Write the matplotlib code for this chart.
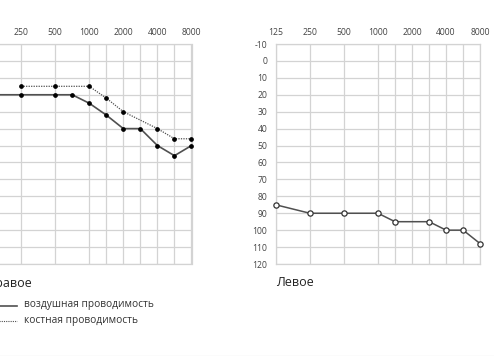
import matplotlib
matplotlib.use("Agg")
import matplotlib.pyplot as plt
import numpy as np
from matplotlib.lines import Line2D

plt.rcParams['font.family'] = ['Open Sans', 'DejaVu Sans']

# ---- data ----
tick_freqs = [125, 250, 500, 1000, 2000, 4000, 8000]
half_freqs = [1500, 3000, 6000]
db_ticks = [-10, 0, 10, 20, 30, 40, 50, 60, 70, 80, 90, 100, 110, 120]

right_air_freqs = [125, 250, 500, 750, 1000, 1500, 2000, 3000, 4000, 6000, 8000]
right_air_db = [20, 20, 20, 20, 25, 32, 40, 40, 50, 56, 50]
right_bone_freqs = [250, 500, 1000, 1500, 2000, 4000, 6000, 8000]
right_bone_db = [15, 15, 15, 22, 30, 40, 46, 46]

left_air_freqs = [125, 250, 500, 1000, 1500, 3000, 4000, 6000, 8000]
left_air_db = [85, 90, 90, 90, 95, 95, 100, 100, 108]

titles = ["Правое", "Левое"]
legend_labels = ["воздушная проводимость", "костная проводимость"]


def fpos(f):
    """Audiogram x scale: octaves from 125 Hz, mid-octave freqs placed halfway."""
    f = np.asarray(f, dtype=float)
    oct_ = np.log2(f / 125.0)
    frac = oct_ - np.floor(oct_ + 1e-9)
    out = np.where(np.abs(frac) < 1e-6, oct_, np.floor(oct_) + 0.5)
    return out


W, H = 494, 356
fig = plt.figure(figsize=(W / 100, H / 100), dpi=100)

grid_c = '#d3d3d3'
line_c = '#505050'
text_c = '#444444'


def make_ax(left_px):
    top_px, bot_px = 44, 264
    width_px = 204.5
    ax = fig.add_axes([left_px / W, (H - bot_px) / H, width_px / W, (bot_px - top_px) / H])
    ax.set_xlim(0, 6)
    ax.set_ylim(120, -10)
    ax.set_xticks(fpos(tick_freqs))
    ax.set_xticklabels([str(f) for f in tick_freqs])
    ax.set_xticks(fpos(half_freqs), minor=True)
    ax.set_yticks(db_ticks)
    ax.set_yticklabels([str(v) for v in db_ticks])
    ax.xaxis.tick_top()
    ax.tick_params(axis='both', which='both', length=0, labelsize=6.2, labelcolor=text_c)
    ax.tick_params(axis='x', pad=5)
    ax.tick_params(axis='y', pad=6)
    ax.grid(True, which='both', color=grid_c, linewidth=0.9)
    for s in ax.spines.values():
        s.set_color(grid_c)
        s.set_linewidth(0.9)
    ax.set_axisbelow(True)
    return ax


axL = make_ax(-13)
axR = make_ax(275.7)

axL.plot(fpos(right_air_freqs), right_air_db, color=line_c, lw=1.2,
         marker='o', ms=2.4, mfc='black', mec='black', clip_on=False, zorder=3)
axL.plot(fpos(right_bone_freqs), right_bone_db, color=line_c, lw=0.9, ls=(0, (1, 1)),
         marker='o', ms=2.4, mfc='black', mec='black', clip_on=False, zorder=3)

axR.plot(fpos(left_air_freqs), left_air_db, color=line_c, lw=1.1,
         marker='o', ms=3.8, mfc='white', mec='#333333', mew=0.9, clip_on=False, zorder=3)

fig.text(-13 / W, 1 - 283 / H, titles[0], fontsize=9, color='#222222', va='center', ha='left')
fig.text(275.7 / W, 1 - 283 / H, titles[1], fontsize=9, color='#222222', va='center', ha='left')

# legend
fig.add_artist(Line2D([-10 / W, 16.7 / W], [1 - 305.5 / H, 1 - 305.5 / H],
                      color=line_c, lw=1.2, transform=fig.transFigure))
fig.add_artist(Line2D([-10 / W, 17 / W], [1 - 321 / H, 1 - 321 / H],
                      color=line_c, lw=0.8, ls=(0, (1, 1)), transform=fig.transFigure))
fig.text(24.3 / W, 1 - 305 / H, legend_labels[0], fontsize=7.3, color='#333333', va='center', ha='left')
fig.text(24.3 / W, 1 - 321 / H, legend_labels[1], fontsize=7.3, color='#333333', va='center', ha='left')

fig.add_artist(Line2D([0, 1], [1 - 355.5 / H, 1 - 355.5 / H], color='#eeeeee', lw=1,
                      transform=fig.transFigure))

fig.savefig('out.png', dpi=100)
